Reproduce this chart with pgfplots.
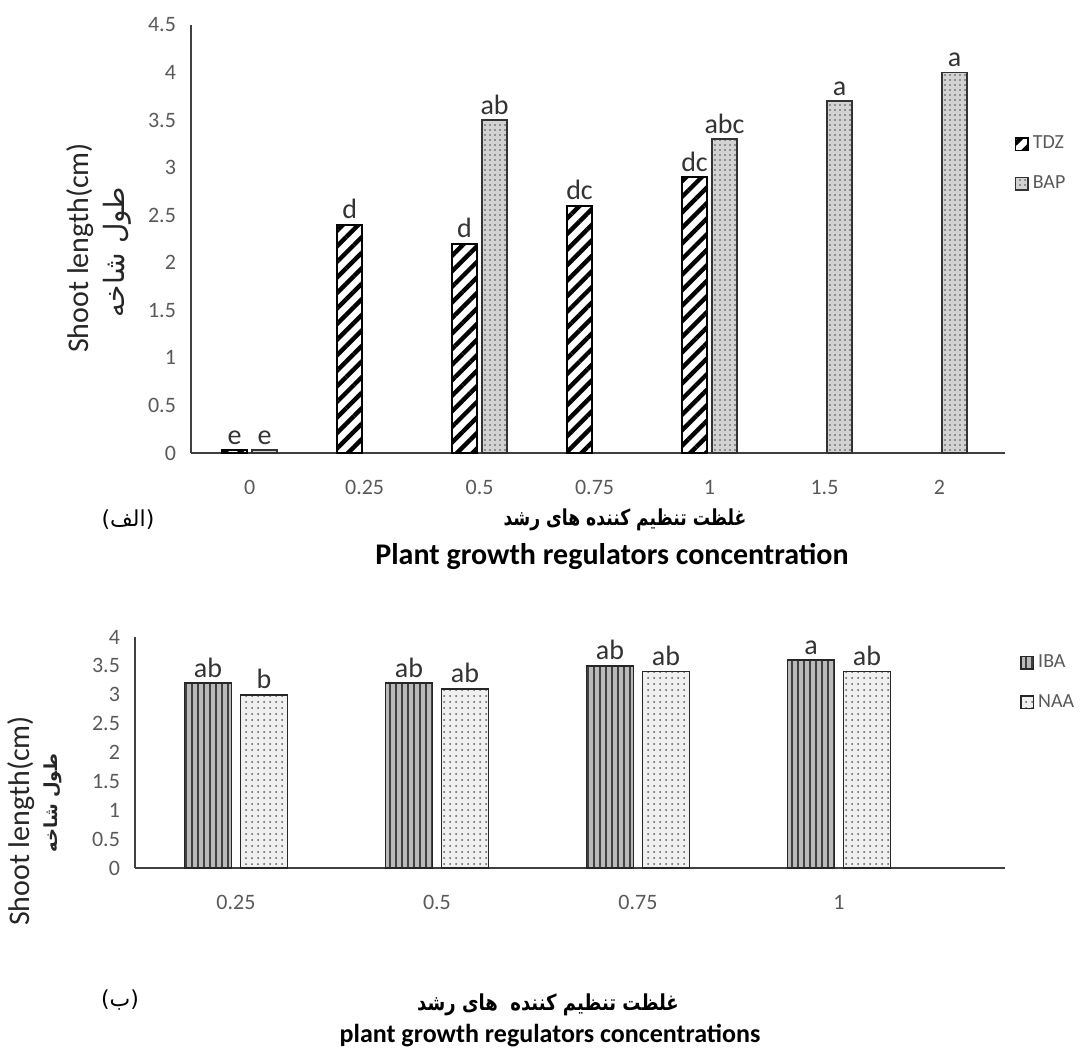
\documentclass[border=0pt]{standalone}
\usepackage{pgfplots}
\pgfplotsset{compat=1.18}
\usepackage{fontspec}
\setmainfont{Carlito}
\newfontfamily\arabicfont[Script=Arabic]{DejaVu Sans}
\TeXXeTstate=1
\usetikzlibrary{patterns,patterns.meta}
\definecolor{tickgray}{HTML}{595959}
\definecolor{axgray}{HTML}{404040}
\pgfplotsset{
  mybar/.style={
    scale only axis,
    axis x line=bottom, axis y line=left,
    axis line style={-, axgray, line width=1pt},
    major tick length=0pt,
    tick label style={font=\fontsize{11}{13}\selectfont, text=tickgray},
    /pgf/number format/assume math mode=true,
    xticklabel style={yshift=-10pt},
    yticklabel style={xshift=-4pt},
    ybar,
    nodes near coords, point meta=explicit symbolic,
    nodes near coords style={font=\fontsize{14}{16}\selectfont, text=black!80, inner sep=2.5pt},
    legend style={draw=none, fill=none, font=\fontsize{10}{12}\selectfont, text=tickgray, anchor=north west, row sep=8pt},
    legend cell align=left,
    legend image code/.code={\draw[##1, line width=0.8pt] (0cm,-0.11cm) rectangle (0.22cm,0.11cm);},
    clip=false,
  }
}
\begin{document}
\begin{tikzpicture}[x=0.5pt,y=-0.5pt]
\path[use as bounding box] (0,0) rectangle (1080,1050);
% ---------- top panel ----------
\begin{axis}[mybar,
  at={(95.5pt,-226.5pt)}, anchor=south west,
  width=407pt, height=214pt,
  xmin=-0.51, xmax=6.57, ymin=0, ymax=4.5,
  ytick={0,0.5,1,1.5,2,2.5,3,3.5,4,4.5},
  xtick={0,1,2,3,4,5,6},
  xticklabels={0,0.25,0.5,0.75,1,1.5,2},
  bar width=12.5pt,
  legend style={at={(axis description cs:1.004,0.76)}},
]
\addplot[bar shift=-7.5pt, draw=black, line width=0.8pt,
  pattern={Lines[angle=45,distance=5.5pt,line width=2.2pt]}, pattern color=black]
  coordinates {(0,0.03)[e] (1,2.4)[d] (2,2.2)[d] (3,2.6)[dc] (4,2.9)[dc]};
\addplot[bar shift=7.5pt, draw=black!80, line width=0.8pt, fill=gray!35,
  postaction={pattern={Dots[distance=2.5pt,radius=0.4pt]}, pattern color=gray!60!black}]
  coordinates {(0,0.03)[e] (2,3.5)[ab] (4,3.3)[abc] (5,3.7)[a] (6,4.0)[a]};
\legend{TDZ,BAP}
\end{axis}
% ---------- bottom panel ----------
\begin{axis}[mybar,
  at={(67.5pt,-434pt)}, anchor=south west,
  width=435pt, height=115.5pt,
  xmin=-0.502, xmax=3.826, ymin=0, ymax=4,
  ytick={0,0.5,1,1.5,2,2.5,3,3.5,4},
  xtick={0,1,2,3},
  xticklabels={0.25,0.5,0.75,1},
  bar width=23.5pt,
  legend style={at={(axis description cs:1.01,0.96)}},
]
\addplot[bar shift=-14pt, draw=black!85, line width=0.8pt, fill=gray!55,
  postaction={pattern={Lines[angle=90,distance=3pt,line width=0.7pt]}, pattern color=black!75}]
  coordinates {(0,3.2)[ab] (1,3.2)[ab] (2,3.5)[ab] (3,3.6)[a]};
\addplot[bar shift=14pt, draw=black!85, line width=0.8pt, fill=gray!12,
  postaction={pattern={Dots[distance=3pt,radius=0.5pt]}, pattern color=gray!70!black}]
  coordinates {(0,3.0)[b] (1,3.1)[ab] (2,3.4)[ab] (3,3.4)[ab]};
\legend{IBA,NAA}
\end{axis}
% ---------- texts ----------
\node[rotate=90, font=\fontsize{15}{17}\selectfont, text=black!85] at (80,248) {Shoot length(cm)};
\node[rotate=90, font=\arabicfont\fontsize{14}{16}\selectfont, text=black!85] at (117,252) {\beginR طول شاخه\endR};
\node[rotate=90, font=\fontsize{15}{17}\selectfont, text=black!85] at (21,821) {Shoot length(cm)};
\node[rotate=90, font=\arabicfont\bfseries\fontsize{9}{11}\selectfont, text=black!85] at (53,803) {\beginR طول شاخه\endR};
\node[font=\arabicfont\bfseries\fontsize{11}{13}\selectfont] at (625,520) {\scalebox{0.78}[1]{\beginR غلظت تنظیم کننده های رشد\endR}};
\node[font=\bfseries\fontsize{15}{17}\selectfont] at (612,556) {Plant growth regulators concentration};
\node[font=\arabicfont\fontsize{11}{13}\selectfont] at (128,520) {\beginR(الف)\endR};
\node[font=\arabicfont\bfseries\fontsize{11}{13}\selectfont] at (548,1005) {\scalebox{0.82}[1]{\beginR غلظت تنظیم کننده ~های رشد\endR}};
\node[font=\bfseries\fontsize{13}{15}\selectfont] at (550,1036) {plant growth regulators concentrations};
\node[font=\arabicfont\fontsize{11}{13}\selectfont] at (120,1000) {\beginR(ب)\endR};
\end{tikzpicture}
\end{document}
